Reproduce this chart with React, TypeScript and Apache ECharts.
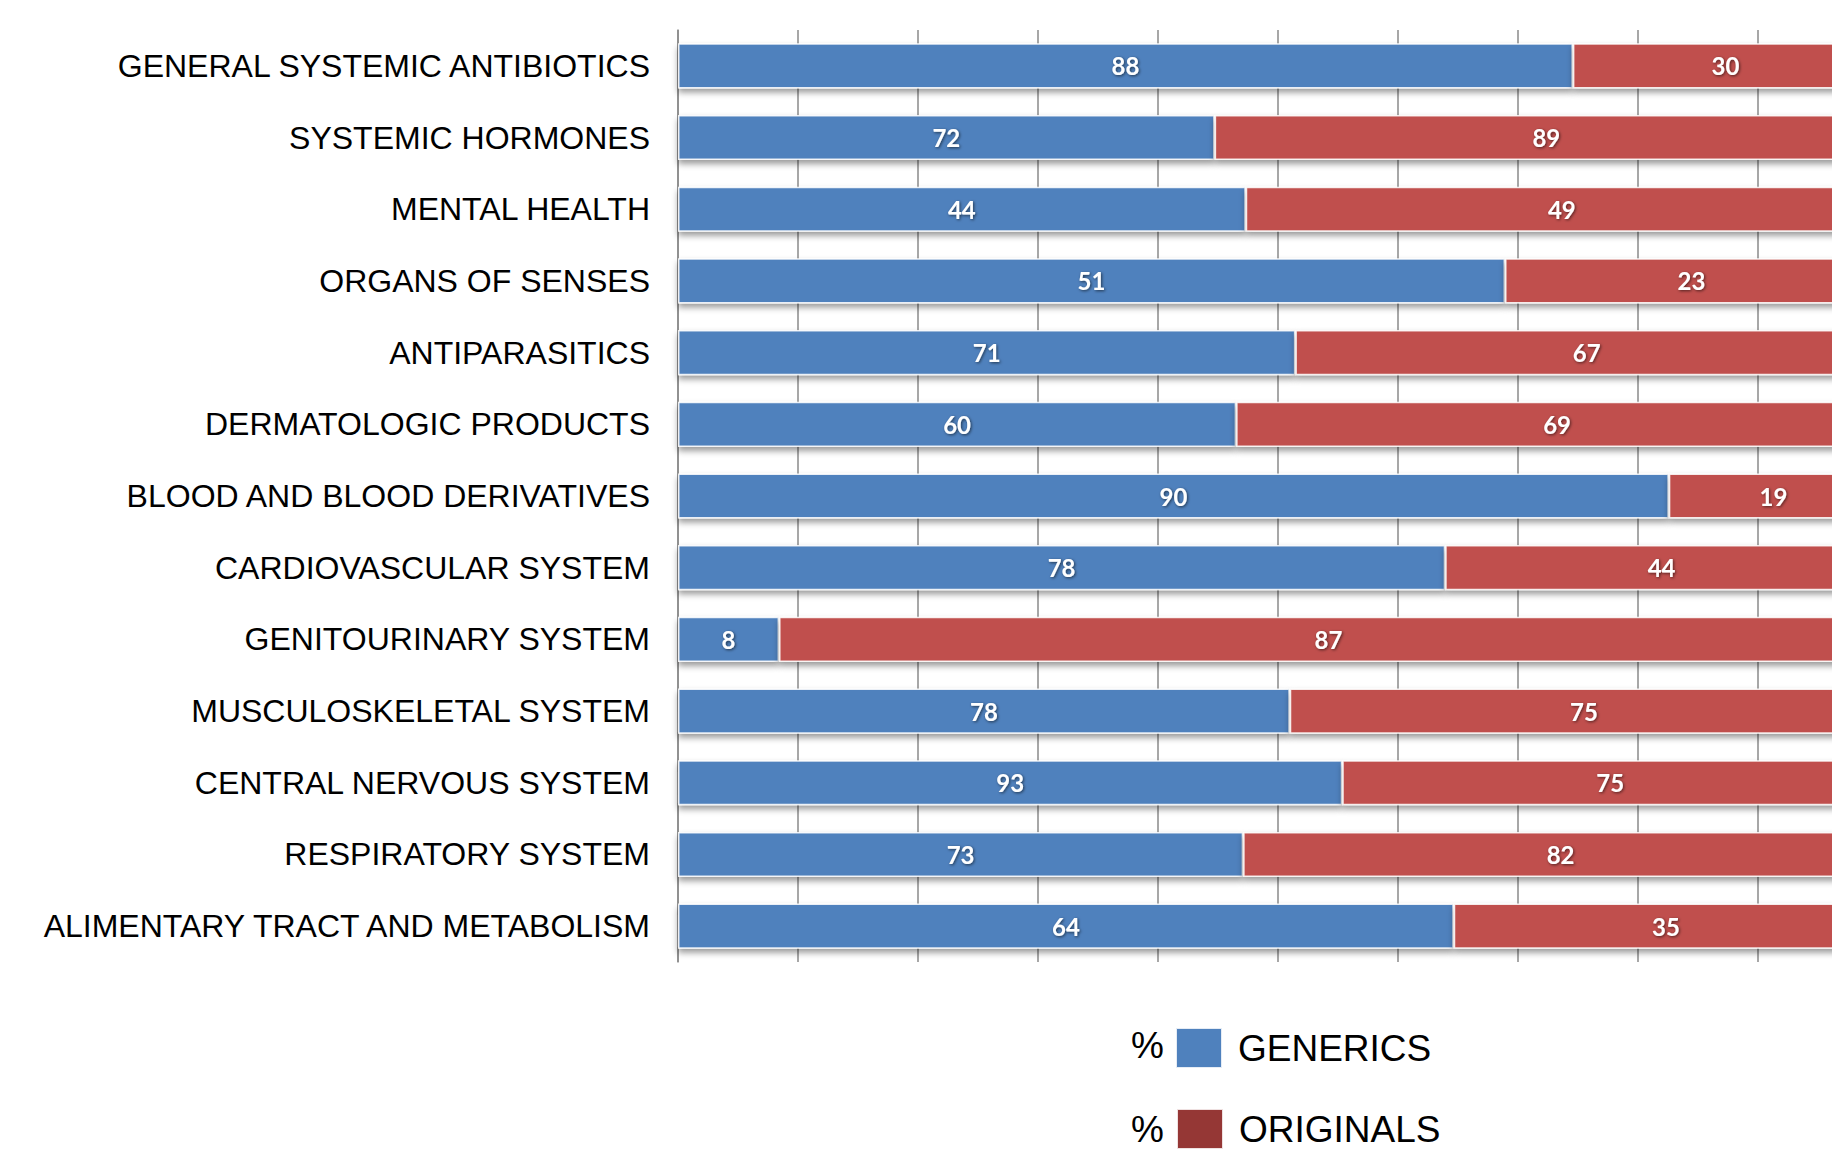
import React, { useEffect, useRef } from "react";
import * as echarts from "echarts";

const categories = [
  "GENERAL SYSTEMIC ANTIBIOTICS",
  "SYSTEMIC HORMONES",
  "MENTAL HEALTH",
  "ORGANS OF SENSES",
  "ANTIPARASITICS",
  "DERMATOLOGIC PRODUCTS",
  "BLOOD AND BLOOD DERIVATIVES",
  "CARDIOVASCULAR SYSTEM",
  "GENITOURINARY SYSTEM",
  "MUSCULOSKELETAL SYSTEM",
  "CENTRAL NERVOUS SYSTEM",
  "RESPIRATORY SYSTEM",
  "ALIMENTARY TRACT AND METABOLISM",
];
const generics = [88, 72, 44, 51, 71, 60, 90, 78, 8, 78, 93, 73, 64];
const originals = [30, 89, 49, 23, 67, 69, 19, 44, 87, 75, 75, 82, 35];

const BLUE = "#4F81BD";
const RED = "#C0504D";
const RED_LEGEND = "#953735";

export default function App() {
  const ref = useRef<HTMLDivElement>(null);
  useEffect(() => {
    if (!ref.current) return;
    const chart = echarts.init(ref.current, null, { renderer: "svg" });
    const totals = generics.map((g, i) => g + originals[i]);
    const gPct = generics.map((g, i) => (g / totals[i]) * 100);
    const oPct = originals.map((o, i) => (o / totals[i]) * 100);
    const labelStyle = {
      show: true,
      position: "inside",
      color: "#fff",
      fontFamily: "Lato, 'Open Sans', sans-serif",
      fontWeight: "bold",
      fontSize: 24,
      textShadowColor: "rgba(0,0,0,0.6)",
      textShadowBlur: 3,
      textShadowOffsetX: 1,
      textShadowOffsetY: 1,
    };
    const itemBase = {
      borderColor: "rgba(255,255,255,0.85)",
      borderWidth: 1.5,
      shadowColor: "rgba(0,0,0,0.4)",
      shadowBlur: 6,
      shadowOffsetY: 4,
    };
    const legendText = {
      color: "#000",
      fontFamily: "'Liberation Sans', Arial, sans-serif",
      fontSize: 37,
      lineHeight: 40,
      padding: [0, 0, 0, 11],
    };
    const pctText = {
      text: "%",
      fontFamily: "'Liberation Sans', Arial, sans-serif",
      fontSize: 37,
      fill: "#000",
      verticalAlign: "middle",
    };
    chart.setOption({
      animation: false,
      backgroundColor: "#fff",
      grid: {
        left: 678,
        top: 30,
        width: 1200,
        height: 932,
        containLabel: false,
        outerBoundsMode: "none",
      },
      xAxis: {
        type: "value",
        min: 0,
        max: 100,
        interval: 10,
        axisLabel: { show: false },
        axisLine: { show: false },
        axisTick: { show: false },
        splitLine: { show: true, lineStyle: { color: "#8a8a8a", width: 1.5 } },
      },
      yAxis: {
        type: "category",
        inverse: true,
        data: categories,
        axisTick: { show: false },
        axisLine: { show: true, lineStyle: { color: "#8a8a8a", width: 1.5 } },
        axisLabel: {
          margin: 28,
          color: "#000",
          fontFamily: "'Liberation Sans', Arial, sans-serif",
          fontSize: 32,
        },
      },
      legend: [
        {
          left: 1175,
          top: 1027,
          padding: 0,
          itemWidth: 46,
          itemHeight: 40,
          icon: "rect",
          selectedMode: false,
          textStyle: legendText,
          data: [{ name: "GENERICS", itemStyle: { color: BLUE } }],
        },
        {
          left: 1176,
          top: 1108,
          padding: 0,
          itemWidth: 46,
          itemHeight: 40,
          icon: "rect",
          selectedMode: false,
          textStyle: legendText,
          data: [{ name: "ORIGINALS", itemStyle: { color: RED_LEGEND } }],
        },
      ],
      graphic: [
        { type: "text", x: 1131, y: 1045, style: { ...pctText } },
        { type: "text", x: 1131, y: 1129, style: { ...pctText } },
      ],
      series: [
        {
          name: "GENERICS",
          type: "bar",
          stack: "total",
          barCategoryGap: "37%",
          data: gPct,
          itemStyle: { ...itemBase, color: BLUE },
          label: { ...labelStyle, formatter: (p: any) => String(generics[p.dataIndex]) },
        },
        {
          name: "ORIGINALS",
          type: "bar",
          stack: "total",
          barCategoryGap: "37%",
          data: oPct,
          itemStyle: { ...itemBase, color: RED },
          label: { ...labelStyle, formatter: (p: any) => String(originals[p.dataIndex]) },
        },
      ],
    });
    return () => chart.dispose();
  }, []);
  return (
    <div
      style={{
        position: "fixed",
        left: 0,
        top: 0,
        width: 1832,
        height: 1152,
        overflow: "hidden",
        background: "#fff",
      }}
    >
      <div ref={ref} style={{ width: 1900, height: 1152 }} />
    </div>
  );
}
